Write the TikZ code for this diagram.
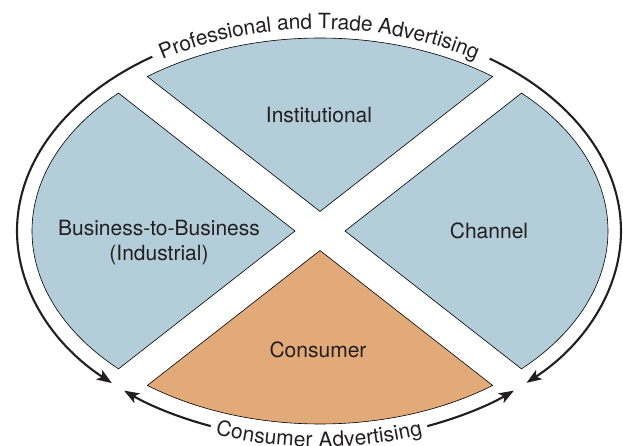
\documentclass[tikz,border=0pt]{standalone}
\usepackage{fontspec}
\setmainfont{TeX Gyre Heros}
\usetikzlibrary{arrows.meta,decorations.text}
\definecolor{azzurro}{RGB}{179,205,217}
\definecolor{arancio}{RGB}{227,170,121}
\definecolor{scritta}{RGB}{35,31,32}
\tikzstyle{settore} = [draw=black, line width=0.6pt, line join=miter]
\tikzstyle{testo} = [font=\fontsize{21}{25}\selectfont, align=center, text=scritta]
\tikzstyle{arrow} = [line width=2.1pt, draw=scritta, -{Stealth[length=15pt, width=11pt, inset=3.5pt]}]

\begin{document}
\begin{tikzpicture}[x=1pt, y=1pt]
\useasboundingbox (-320,-215) rectangle (303,231);
% i quattro settori
\filldraw[settore, fill=azzurro] (0,19.54) -- (53.16:288 and 193) arc[start angle=53.16, end angle=126.84, x radius=288, y radius=193] -- cycle;
\filldraw[settore, fill=azzurro] (-25.01,0) -- (134.40:288 and 193) arc[start angle=134.40, end angle=225.60, x radius=288, y radius=193] -- cycle;
\filldraw[settore, fill=azzurro] (25.01,0) -- (-45.60:288 and 193) arc[start angle=-45.60, end angle=45.60, x radius=288, y radius=193] -- cycle;
\filldraw[settore, fill=arancio] (0,-19.54) -- (233.16:288 and 193) arc[start angle=233.16, end angle=306.84, x radius=288, y radius=193] -- cycle;
\node (inst) at (-1,116) [testo] {Institutional};
\node (b2b) at (-161,-12) [testo] {Business-to-Business\\(Industrial)};
\node (chan) at (169,0) [testo] {Channel};
\node (cons) at (-2,-119) [testo] {Consumer};
% anello esterno
\begin{scope}[xshift=-1pt]
\draw[arrow] (123.5:302 and 209) arc[start angle=123.5, end angle=226.7, x radius=302, y radius=209];
\draw[arrow] (55.6:302 and 209) arc[start angle=55.6, end angle=-46.6, x radius=302, y radius=209];
\draw[arrow] (249:302 and 209) arc[start angle=249, end angle=229.8, x radius=302, y radius=209];
\draw[arrow] (291:302 and 209) arc[start angle=291, end angle=310.2, x radius=302, y radius=209];
\path[decorate, decoration={text along path, text align=center, raise=-7pt,
  text={|\fontsize{21}{25}\selectfont\color{scritta}|Professional and Trade Advertising}}]
  (132:302 and 209) arc[start angle=132, end angle=48, x radius=302, y radius=209];
\path[decorate, decoration={text along path, text align=center, raise=-7pt,
  text={|\fontsize{21}{25}\selectfont\color{scritta}|Consumer Advertising}}]
  (240:302 and 209) arc[start angle=240, end angle=300, x radius=302, y radius=209];
\end{scope}
\end{tikzpicture}
\end{document}
